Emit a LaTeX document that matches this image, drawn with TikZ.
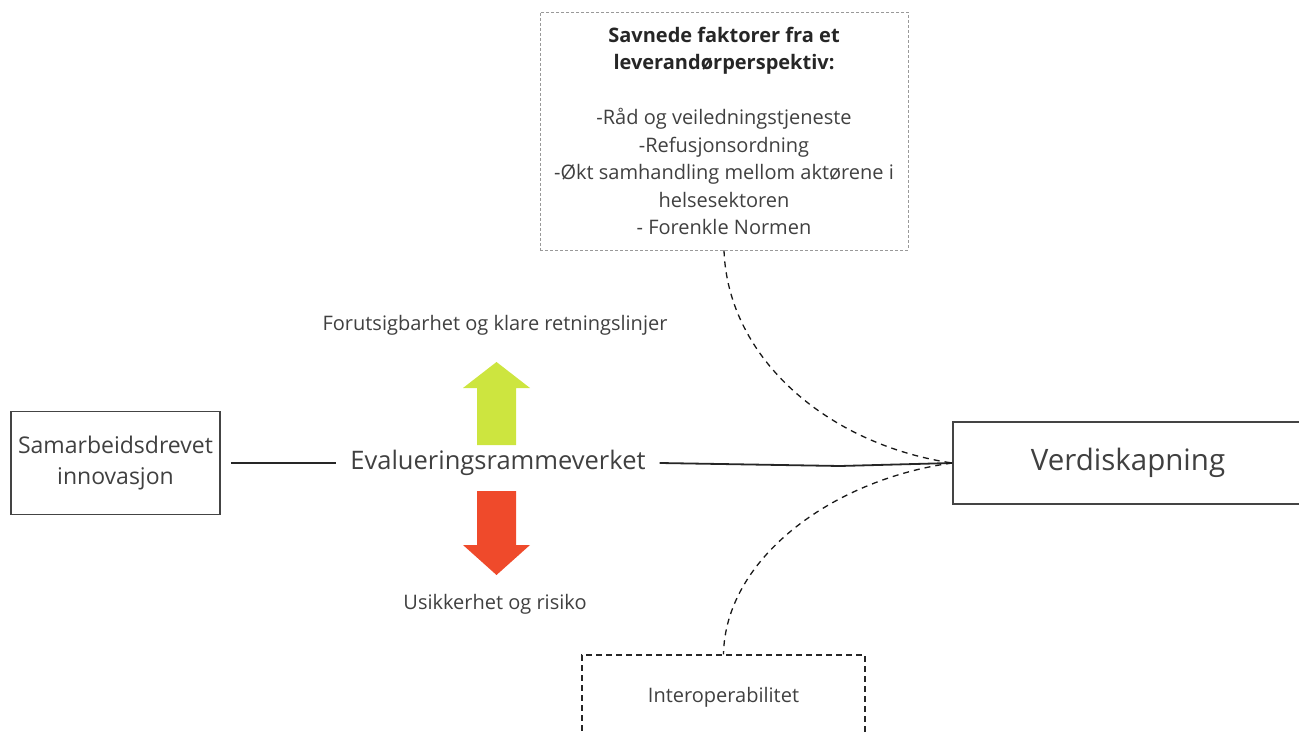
\documentclass[tikz,border=0pt]{standalone}
\usepackage{fontspec}
\setmainfont{Open Sans}
\usepackage{tikz}
\usetikzlibrary{calc}

\definecolor{textgray}{HTML}{404040}
\definecolor{boxgray}{HTML}{444444}
\definecolor{upgreen}{HTML}{CDE53F}
\definecolor{downred}{HTML}{EF4A2B}

\tikzset{
  plainbox/.style={draw=boxgray, line width=1.8pt, align=center, text=textgray, inner sep=0pt},
  dotbox/.style={draw=gray!80, line width=0.9pt, dash pattern=on 3pt off 2pt, align=center, inner sep=0pt},
  dashbox/.style={draw=black!85, line width=1.2pt, dash pattern=on 6pt off 4pt, align=center, text=textgray, inner sep=0pt},
  link/.style={draw=black!85, line width=1.8pt},
  dashlink/.style={draw=black!90, line width=1.3pt, dash pattern=on 6pt off 5pt},
  caption/.style={text=textgray, font=\fontsize{20}{24}\selectfont, inner sep=0pt}
}

\begin{document}
\begin{tikzpicture}[x=1pt, y=-1pt]

  % Parameters (pixels of the reference)
  \def\shaftw{19.5}   % half width of arrow shaft
  \def\headw{33.5}    % half width of arrow head
  \def\arrx{496.5}    % arrow axis

  \useasboundingbox (0,0) rectangle (1299,735);

  % Boxes
  \node[plainbox, minimum width=209pt, minimum height=103pt,
        font=\fontsize{23}{31}\selectfont] (samarb) at (115.5,463) {Samarbeidsdrevet\\innovasjon};
  \node[text=textgray, font=\fontsize{25.5}{30}\selectfont, inner sep=0pt,
        minimum width=323pt] (eval) at (498,463) {Evalueringsrammeverket};
  \node[plainbox, minimum width=350pt, minimum height=82pt,
        font=\fontsize{29.5}{35}\selectfont] (verdi) at (1128,463) {Verdiskapning};

  \node[dotbox, minimum width=368pt, minimum height=238pt,
        font=\fontsize{20}{27.5}\selectfont] (savnet) at (724,131)
    {\textbf{\color{black!85}Savnede faktorer fra et}\\
     \textbf{\color{black!85}leverandørperspektiv:}\\[27.5pt]
     {\color{textgray}-Råd og veiledningstjeneste}\\
     {\color{textgray}-Refusjonsordning}\\
     {\color{textgray}-Økt samhandling mellom aktørene i}\\
     {\color{textgray}helsesektoren}\\
     {\color{textgray}- Forenkle Normen}};

  \node[dashbox, minimum width=283pt, minimum height=84pt, text depth=0pt,
        font=\fontsize{20}{24}\selectfont] (interop) at (723.5,697) {\raisebox{4pt}{Interoperabilitet}};

  % Arrows up and down
  \fill[upgreen] (\arrx-\shaftw,445) -- (\arrx-\shaftw,388) -- (\arrx-\headw,388)
    -- (\arrx,362) -- (\arrx+\headw,388) -- (\arrx+\shaftw,388) -- (\arrx+\shaftw,445) -- cycle;
  \fill[downred] (\arrx-\shaftw,491) -- (\arrx-\shaftw,545) -- (\arrx-\headw,545)
    -- (\arrx,575) -- (\arrx+\headw,545) -- (\arrx+\shaftw,545) -- (\arrx+\shaftw,491) -- cycle;

  \node[caption] (forut) at (495,325) {Forutsigbarhet og klare retningslinjer};
  \node[caption] (usikk) at (495,604) {Usikkerhet og risiko};

  % Connectors
  \coordinate (bend) at (840,466);
  \draw[link, shorten <=10pt] (samarb.east) -- (eval.west);
  \draw[link] (eval.east) -- (bend) -- (verdi.west);

  \draw[dashlink] (savnet.south) .. controls (728,360) and (830,445) .. (verdi.west);
  \draw[dashlink] (verdi.west) .. controls (830,480) and (725,560) .. (interop.north);

\end{tikzpicture}
\end{document}
